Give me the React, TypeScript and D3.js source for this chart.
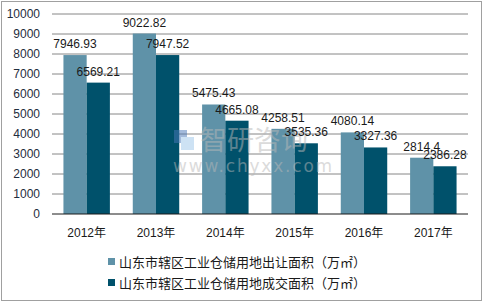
import React from "react";
import * as d3 from "d3";

const categories = ["2012年", "2013年", "2014年", "2015年", "2016年", "2017年"];
const supplyValues = [7946.93, 9022.82, 5475.43, 4258.51, 4080.14, 2814.4];
const dealValues = [6569.21, 7947.52, 4665.08, 3535.36, 3327.36, 2386.28];
const seriesNames = [
  "山东市辖区工业仓储用地出让面积（万㎡）",
  "山东市辖区工业仓储用地成交面积（万㎡）",
];
const yTicks = [0, 1000, 2000, 3000, 4000, 5000, 6000, 7000, 8000, 9000, 10000];

const colors = ["#5f92a8", "#00516b"];
const font = "'Liberation Sans', 'Noto Sans CJK SC', sans-serif";

export default function App() {
  const W = 485, H = 304;
  const left = 52, right = 468, top = 14, bottom = 214;
  const x = d3.scaleBand<string>().domain(categories).range([left, right]).paddingInner(0.33).paddingOuter(0.165);
  const inner = d3.scaleBand<string>().domain(["a", "b"]).range([0, x.bandwidth()]);
  const y = d3.scaleLinear().domain([0, 10000]).range([bottom, top]);
  const series = [supplyValues, dealValues];
  const keys = ["a", "b"];

  return (
    <svg width={W} height={H} style={{ position: "absolute", left: 0, top: 0 }}>
      <rect x={1.5} y={1.5} width={480} height={299} fill="white" stroke="#a0a0a0" />
      {yTicks.map((t) => (
        <g key={t}>
          {t > 0 && <line x1={left} x2={right} y1={y(t)} y2={y(t)} stroke="#868686" strokeWidth={1} />}
          <text x={40} y={y(t)} dy="0.35em" textAnchor="end" fontSize={12} fill="#1f2d3d" fontFamily={font}>
            {t}
          </text>
        </g>
      ))}
      {categories.map((c, i) => (
        <g key={c}>
          {series.map((s, j) => {
            const bx = (x(c) as number) + (inner(keys[j]) as number);
            return (
              <rect key={j} x={bx} y={y(s[i])} width={inner.bandwidth()} height={bottom - y(s[i])} fill={colors[j]} />
            );
          })}
          <text x={(x(c) as number) + x.bandwidth() / 2} y={237} textAnchor="middle" fontSize={12} fill="#1a1a1a" fontFamily={font}>
            {c}
          </text>
        </g>
      ))}
      {/* watermark */}
      <g opacity={0.5}>
        <rect x={174} y={130} width={13} height={13} fill="#4a78b8" />
        <rect x={181} y={137} width={13} height={13} fill="#9cc6ea" />
        <text x={200} y={150} fontSize={27} fill="#b8b8b8" fontFamily="'Noto Sans CJK SC', sans-serif">智研咨询</text>
        <text x={173} y={172} fontSize={17} fill="#b8b8b8" letterSpacing={1.8} fontFamily="'DejaVu Sans', sans-serif">www.chyxx.com</text>
      </g>
      {categories.map((c, i) => (
        <g key={"l" + c}>
          {series.map((s, j) => {
            const bx = (x(c) as number) + (inner(keys[j]) as number) + inner.bandwidth() / 2;
            return (
              <text key={j} x={bx} y={y(s[i]) - 7} textAnchor="middle" fontSize={12} fill="#1a1a1a" fontFamily={font}>
                {s[i]}
              </text>
            );
          })}
        </g>
      ))}
      <line x1={left} x2={right} y1={bottom} y2={bottom} stroke="#1a1a1a" strokeWidth={1} />
      {seriesNames.map((n, j) => (
        <g key={n}>
          <rect x={108} y={258 + j * 21} width={7} height={7} fill={colors[j]} />
          <text x={119} y={262 + j * 21} dy="0.35em" fontSize={13} fill="#1a1a1a" fontFamily={font}>
            {n}
          </text>
        </g>
      ))}
    </svg>
  );
}
